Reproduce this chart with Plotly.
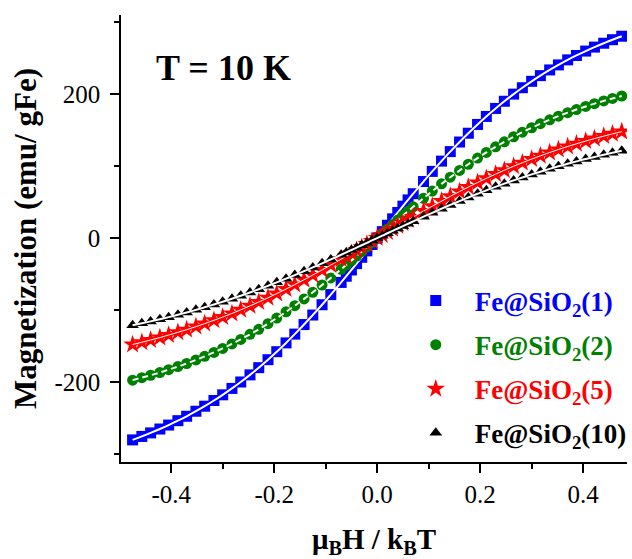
import plotly.graph_objects as go

# ---------------- data ----------------
field = [-0.475, -0.457, -0.44, -0.422, -0.405, -0.387, -0.37, -0.352, -0.335, -0.317, -0.30, -0.282,
         -0.265, -0.247, -0.23, -0.212, -0.195, -0.177, -0.16, -0.142, -0.125, -0.107, -0.09,
         -0.07, -0.06, -0.05, -0.04, -0.03, -0.02, -0.01, 0.0, 0.01, 0.02, 0.03, 0.04, 0.05, 0.06, 0.07,
         0.09, 0.107, 0.125, 0.142, 0.16, 0.177, 0.195, 0.212, 0.23, 0.247, 0.265, 0.282, 0.30,
         0.317, 0.335, 0.352, 0.37, 0.387, 0.405, 0.422, 0.44, 0.457, 0.475]

m_sio2_1 = [-280.3, -275.5, -270.6, -265.2, -259.7, -253.6, -247.5, -240.5, -233.5, -225.6, -217.7, -208.8,
            -199.9, -190.0, -180.0, -168.9, -157.8, -145.6, -133.4, -120.1, -106.9, -92.6, -78.5,
            -61.6, -53.0, -44.3, -35.5, -26.7, -17.8, -8.9, 0.0, 8.9, 17.8, 26.7, 35.5, 44.3, 53.0, 61.6,
            78.5, 92.6, 106.9, 120.1, 133.4, 145.6, 157.8, 168.9, 180.0, 190.0, 199.9, 208.8, 217.7,
            225.6, 233.5, 240.5, 247.5, 253.6, 259.7, 265.2, 270.6, 275.5, 280.3]

m_sio2_2 = [-197.3, -193.9, -190.5, -186.7, -182.8, -178.5, -174.2, -169.3, -164.3, -158.8, -153.2, -147.0,
            -140.7, -133.7, -126.7, -118.9, -111.1, -102.5, -93.9, -84.5, -75.3, -65.2, -55.3,
            -43.4, -37.3, -31.2, -25.0, -18.8, -12.6, -6.3, 0.0, 6.3, 12.6, 18.8, 25.0, 31.2, 37.3, 43.4,
            55.3, 65.2, 75.3, 84.5, 93.9, 102.5, 111.1, 118.9, 126.7, 133.7, 140.7, 147.0, 153.2,
            158.8, 164.3, 169.3, 174.2, 178.5, 182.8, 186.7, 190.5, 193.9, 197.3]

m_sio2_5 = [-147.8, -144.7, -141.6, -138.2, -134.7, -130.9, -127.2, -123.0, -118.8, -114.2, -109.7, -104.7,
            -99.7, -94.2, -88.8, -82.9, -77.1, -70.8, -64.6, -57.9, -51.3, -44.3, -37.5,
            -29.3, -25.2, -21.0, -16.9, -12.7, -8.4, -4.2, 0.0, 4.2, 8.4, 12.7, 16.9, 21.0, 25.2, 29.3,
            37.5, 44.3, 51.3, 57.9, 64.6, 70.8, 77.1, 82.9, 88.8, 94.2, 99.7, 104.7, 109.7,
            114.2, 118.8, 123.0, 127.2, 130.9, 134.7, 138.2, 141.6, 144.7, 147.8]

m_sio2_10 = [-121.2, -118.4, -115.7, -112.7, -109.8, -106.5, -103.3, -99.7, -96.1, -92.2, -88.4, -84.2,
             -80.1, -75.6, -71.1, -66.3, -61.5, -56.4, -51.4, -46.0, -40.8, -35.1, -29.7,
             -23.2, -19.9, -16.6, -13.3, -10.0, -6.7, -3.3, 0.0, 3.3, 6.7, 10.0, 13.3, 16.6, 19.9, 23.2,
             29.7, 35.1, 40.8, 46.0, 51.4, 56.4, 61.5, 66.3, 71.1, 75.6, 80.1, 84.2, 88.4,
             92.2, 96.1, 99.7, 103.3, 106.5, 109.8, 112.7, 115.7, 118.4, 121.2]

series_labels = ["(1)", "(2)", "(5)", "(10)"]

x_tickvals = [-0.4, -0.2, 0.0, 0.2, 0.4]
x_ticktext = ["-0.4", "-0.2", "0.0", "0.2", "0.4"]
x_minor = [-0.3, -0.1, 0.1, 0.3]
y_tickvals = [-200, 0, 200]
y_ticktext = ["-200", "0", "200"]
y_minor = [-300, -100, 100, 300]

x_range = [-0.4975, 0.4852]
y_range = [-311, 309.8]

# ---------------- figure ----------------
FONT = "Liberation Serif"
series = [
    (m_sio2_1, "#0000FF", "square", 11, dict(color="white", width=2)),
    (m_sio2_2, "#008000", "circle", 11, dict(color="white", width=2, dash="6px,4px")),
    (m_sio2_5, "#FF0000", "star", 14, dict(color="white", width=1)),
    (m_sio2_10, "#000000", "triangle-up", 11, dict(color="white", width=2)),
]

fig = go.Figure()
for i, (vals, col, sym, sz, fitline) in enumerate(series):
    name = ("<span style='color:%s'><b>Fe@SiO<sub>2</sub>%s</b></span>" % (col, series_labels[i]))
    fig.add_trace(go.Scatter(
        x=field, y=vals, mode="markers", name=name, legendgroup="g%d" % i,
        marker=dict(symbol=sym, size=sz, color=col, line=dict(width=0)),
    ))
    fig.add_trace(go.Scatter(
        x=field, y=vals, mode="lines", line=fitline, line_shape="spline",
        showlegend=False, legendgroup="g%d" % i, hoverinfo="skip",
    ))

axis_common = dict(showgrid=False, zeroline=False, linecolor="black", linewidth=1.5,
                   tickcolor="black", tickwidth=1.5)

fig.update_layout(
    width=632, height=559,
    margin=dict(l=121, r=0, t=15, b=97),
    paper_bgcolor="white", plot_bgcolor="white",
    font=dict(family=FONT, color="black"),
    xaxis=dict(range=x_range, tickmode="array", tickvals=x_tickvals, ticktext=x_ticktext,
               ticks="outside", ticklen=9, showline=True,
               minor=dict(tickmode="array", tickvals=x_minor, ticks="outside", ticklen=5,
                          tickwidth=1.5, tickcolor="black"),
               tickfont=dict(family=FONT, size=25, color="black"),
               title=dict(text="<b>μ<sub>B</sub>H / k<sub>B</sub>T</b>",
                          font=dict(family=FONT, size=29, color="black"), standoff=25),
               automargin=False, **axis_common),
    xaxis2=dict(range=x_range, overlaying="x", side="top", tickmode="array", tickvals=x_tickvals,
                showticklabels=False, ticks="inside", ticklen=8, showline=True,
                minor=dict(tickmode="array", tickvals=x_minor, ticks="inside", ticklen=5,
                           tickwidth=1.5, tickcolor="black"),
                automargin=False, **axis_common),
    yaxis=dict(range=y_range, tickmode="array", tickvals=y_tickvals, ticktext=y_ticktext,
               ticks="outside", ticklen=9, showline=True, ticklabelstandoff=5,
               minor=dict(tickmode="array", tickvals=y_minor, ticks="outside", ticklen=5,
                          tickwidth=1.5, tickcolor="black"),
               tickfont=dict(family=FONT, size=25, color="black"),
               title=dict(text="<b>Magnetization (emu/ gFe)</b>",
                          font=dict(family=FONT, size=31, color="black"), standoff=9),
               automargin=False, **axis_common),
    yaxis2=dict(range=y_range, overlaying="y", side="right", tickmode="array", tickvals=y_tickvals,
                showticklabels=False, ticks="inside", ticklen=5, showline=False,
                minor=dict(tickmode="array", tickvals=y_minor, ticks="inside", ticklen=3,
                           tickwidth=1.5, tickcolor="black"),
                automargin=False, showgrid=False, zeroline=False, tickcolor="black", tickwidth=1.5),
    legend=dict(x=0.545, y=0.415, xanchor="left", yanchor="top", bgcolor="rgba(0,0,0,0)",
                font=dict(family=FONT, size=27), itemwidth=68, tracegroupgap=6,
                traceorder="grouped"),
    showlegend=True,
    annotations=[dict(text="<b>T = 10 K</b>", xref="paper", yref="paper", x=0.2035, y=0.881,
                      xanchor="center", yanchor="middle", showarrow=False,
                      font=dict(family=FONT, size=36, color="black"))],
)

fig.write_html("out.html", config={"displayModeBar": False},
               post_script="document.body.style.margin='0';document.body.style.overflow='hidden';")
